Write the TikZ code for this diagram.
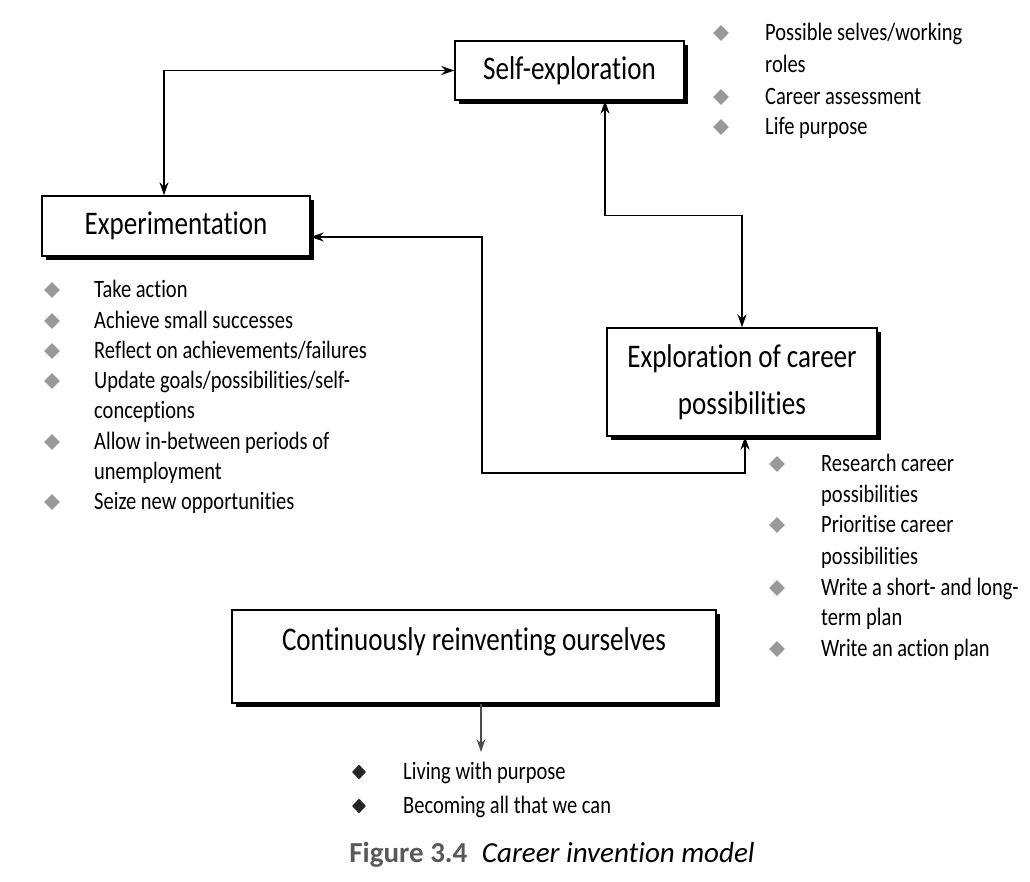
\documentclass[tikz,border=0pt]{standalone}
\usepackage{fontspec}
\setmainfont{Carlito}[FakeStretch=0.82, Ligatures=NoCommon]
\newfontfamily\captionface{Carlito}[Ligatures=NoCommon]
\usetikzlibrary{shapes.geometric,shadows,arrows.meta,calc}

% one bulleted line: name, diamond x, text x, y, text
\newcommand\bulletline[6][gem]{%
  \node[#1] (#2d) at (#3,#5-1) {};
  \node[entry] (#2) at (#4,#5+4) {#6};}
% continuation line of a bulleted entry: name, x, y, text
\newcommand\moreline[4]{\node[entry] (#1) at (#2,#3+4) {#4};}

\begin{document}
\begin{tikzpicture}[x=1pt,y=-1pt,
  box/.style={draw, line width=1.4pt, fill=white, inner sep=0pt,
    drop shadow={shadow xshift=4pt, shadow yshift=-4pt, fill=black, opacity=1},
    font=\fontsize{33}{47}\selectfont},
  link/.style={line width=1.3pt,
    {Stealth[length=13pt,width=9pt]}-{Stealth[length=13pt,width=9pt]}},
  gem/.style={diamond, fill=gray!80, inner sep=0pt, minimum width=16pt, minimum height=16pt},
  darkgem/.style={diamond, fill=black!85, inner sep=0pt, minimum width=14pt, minimum height=15pt},
  entry/.style={anchor=mid west, inner sep=0pt, font=\fontsize{25}{31}\selectfont},
]
\useasboundingbox (0,0) rectangle (1030,882);

% stage boxes
\node[box, minimum width=229pt, minimum height=59pt] (selfex) at (569.5,70.5) {Self-exploration};
\node[box, minimum width=268pt, minimum height=60pt] (exper) at (176,226) {Experimentation};
\node[box, minimum width=270pt, minimum height=108pt, align=center] (explo) at (742,382)
  {Exploration of career\\possibilities};
\node[box, minimum width=484pt, text height=40pt, text depth=53pt, anchor=base] (cont) at (474,650)
  {Continuously reinventing ourselves};

% links between the stages
\draw[link] ([xshift=-12pt]exper.north) |- (selfex.west);
\draw[link] ([xshift=35.5pt]selfex.south) -- ++(0,115) -| (explo.north);
\draw[link] ([xshift=3pt]explo.south) |- (482,473) |- ([yshift=-11pt]exper.east);

% outcome arrow
\coordinate (outcome) at (481,752);
\draw[line width=1.2pt, draw=black!70, -{Stealth[length=13pt,width=9pt]}]
  (cont.south -| outcome) -- (outcome);

% self-exploration notes
\bulletline{s1}{721}{765}{34}{Possible selves/working}
\moreline{s1b}{765}{66}{roles}
\bulletline{s2}{721}{765}{98}{Career assessment}
\bulletline{s3}{721}{765}{128}{Life purpose}

% experimentation notes
\bulletline{e1}{52}{94}{291}{Take action}
\bulletline{e2}{52}{94}{322}{Achieve small successes}
\bulletline{e3}{52}{94}{352}{Reflect on achievements/failures}
\bulletline{e4}{52}{94}{382}{Update goals/possibilities/self-}
\moreline{e4b}{94}{412}{conceptions}
\bulletline{e5}{52}{94}{443}{Allow in-between periods of}
\moreline{e5b}{94}{473}{unemployment}
\bulletline{e6}{52}{94}{503}{Seize new opportunities}

% exploration notes
\bulletline{x1}{777}{821}{465}{Research career}
\moreline{x1b}{821}{496}{possibilities}
\bulletline{x2}{777}{821}{526}{Prioritise career}
\moreline{x2b}{821}{558}{possibilities}
\bulletline{x3}{777}{821}{589}{Write a short- and long-}
\moreline{x3b}{821}{619}{term plan}
\bulletline{x4}{777}{821}{650}{Write an action plan}

% outcomes
\bulletline[darkgem]{o1}{359}{403}{773}{Living with purpose}
\bulletline[darkgem]{o2}{359}{403}{807}{Becoming all that we can}

% caption
\node[font=\captionface\fontsize{29}{34}\selectfont, anchor=mid] (caption) at (552,860)
  {{\bfseries\color{black!65}Figure 3.4}\enspace{\itshape Career invention model}};
\end{tikzpicture}
\end{document}
